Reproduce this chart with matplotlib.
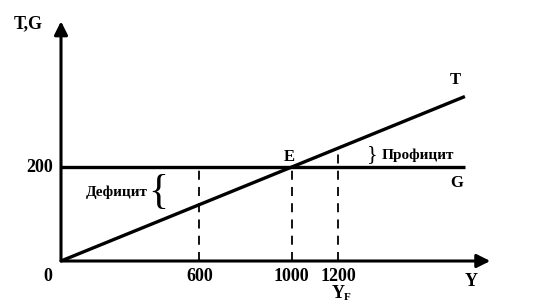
import numpy as np
import matplotlib.pyplot as plt

# Данные графика
G_level = 200          # государственные расходы
t_rate = 0.2           # налоговая ставка, T = t*Y
Y_ticks = [600, 1000, 1200]
Y_end = 1750           # конец линий T и G
x_max = 1860           # конец оси Y
y_max = 510            # конец оси T,G

plt.rcParams['font.family'] = ['Liberation Serif', 'DejaVu Serif']
plt.rcParams['font.weight'] = 'bold'

fig = plt.figure(figsize=(5.36, 3.05), dpi=100)
ax = fig.add_axes([0, 0, 1, 1])
# масштаб: 0.2308 px на единицу Y, 0.47 px на единицу T,G; начало координат в (61, 261)
ax.set_xlim(-61/0.2308, 475/0.2308)
ax.set_ylim(-44/0.47, 261/0.47)
ax.axis('off')

# оси со стрелками
arr = dict(arrowstyle='-|>', color='black', lw=2.2, mutation_scale=20,
           shrinkA=0, shrinkB=0)
ax.annotate('', xy=(0, y_max), xytext=(0, 0), arrowprops=arr)
ax.annotate('', xy=(x_max, 0), xytext=(0, 0), arrowprops=arr)

# линии T и G
Y = np.array([0, Y_end])
ax.plot(Y, t_rate*Y, color='black', lw=2.4, solid_capstyle='butt')
ax.plot([0, Y_end], [G_level, G_level], color='black', lw=2.4, solid_capstyle='butt')

# пунктирные линии
for y in Y_ticks:
    top = max(G_level, t_rate*y)
    ax.plot([y, y], [0, top], color='black', lw=1.3, ls=(0, (5, 4)))
    ax.text(y, -32, str(y), ha='center', va='center', fontsize=13, fontweight='bold')

ax.text(-58, -32, '0', ha='center', va='center', fontsize=13, fontweight='bold')
ax.text(-35, G_level, '200', ha='right', va='center', fontsize=13, fontweight='bold')
ax.text(-143, 504, 'T,G', ha='center', va='center', fontsize=13, fontweight='bold')
ax.text(1775, -43, 'Y', ha='center', va='center', fontsize=13, fontweight='bold')
ax.text(1200, -70, 'Y', ha='center', va='center', fontsize=13, fontweight='bold')
ax.text(1240, -78, 'F', ha='center', va='center', fontsize=8, fontweight='bold')
ax.text(Y_end - 40, t_rate*Y_end + 35, 'T', ha='center', va='center', fontsize=12, fontweight='bold')
ax.text(Y_end - 35, G_level - 34, 'G', ha='center', va='center', fontsize=12, fontweight='bold')
ax.text(990, G_level + 22, 'E', ha='center', va='center', fontsize=12, fontweight='bold')

# дефицит и профицит
ax.text(243, G_level - 53, 'Дефицит', ha='center', va='center', fontsize=11, fontweight='bold')
ax.text(420, G_level - 55, '{', ha='center', va='center', fontsize=30,
        fontweight='normal')
ax.text(1350, G_level + 26, '}', ha='center', va='center', fontsize=16, fontweight='normal')
ax.text(1390, G_level + 26, 'Профицит', ha='left', va='center', fontsize=11, fontweight='bold')

fig.savefig('out.png', dpi=100)
